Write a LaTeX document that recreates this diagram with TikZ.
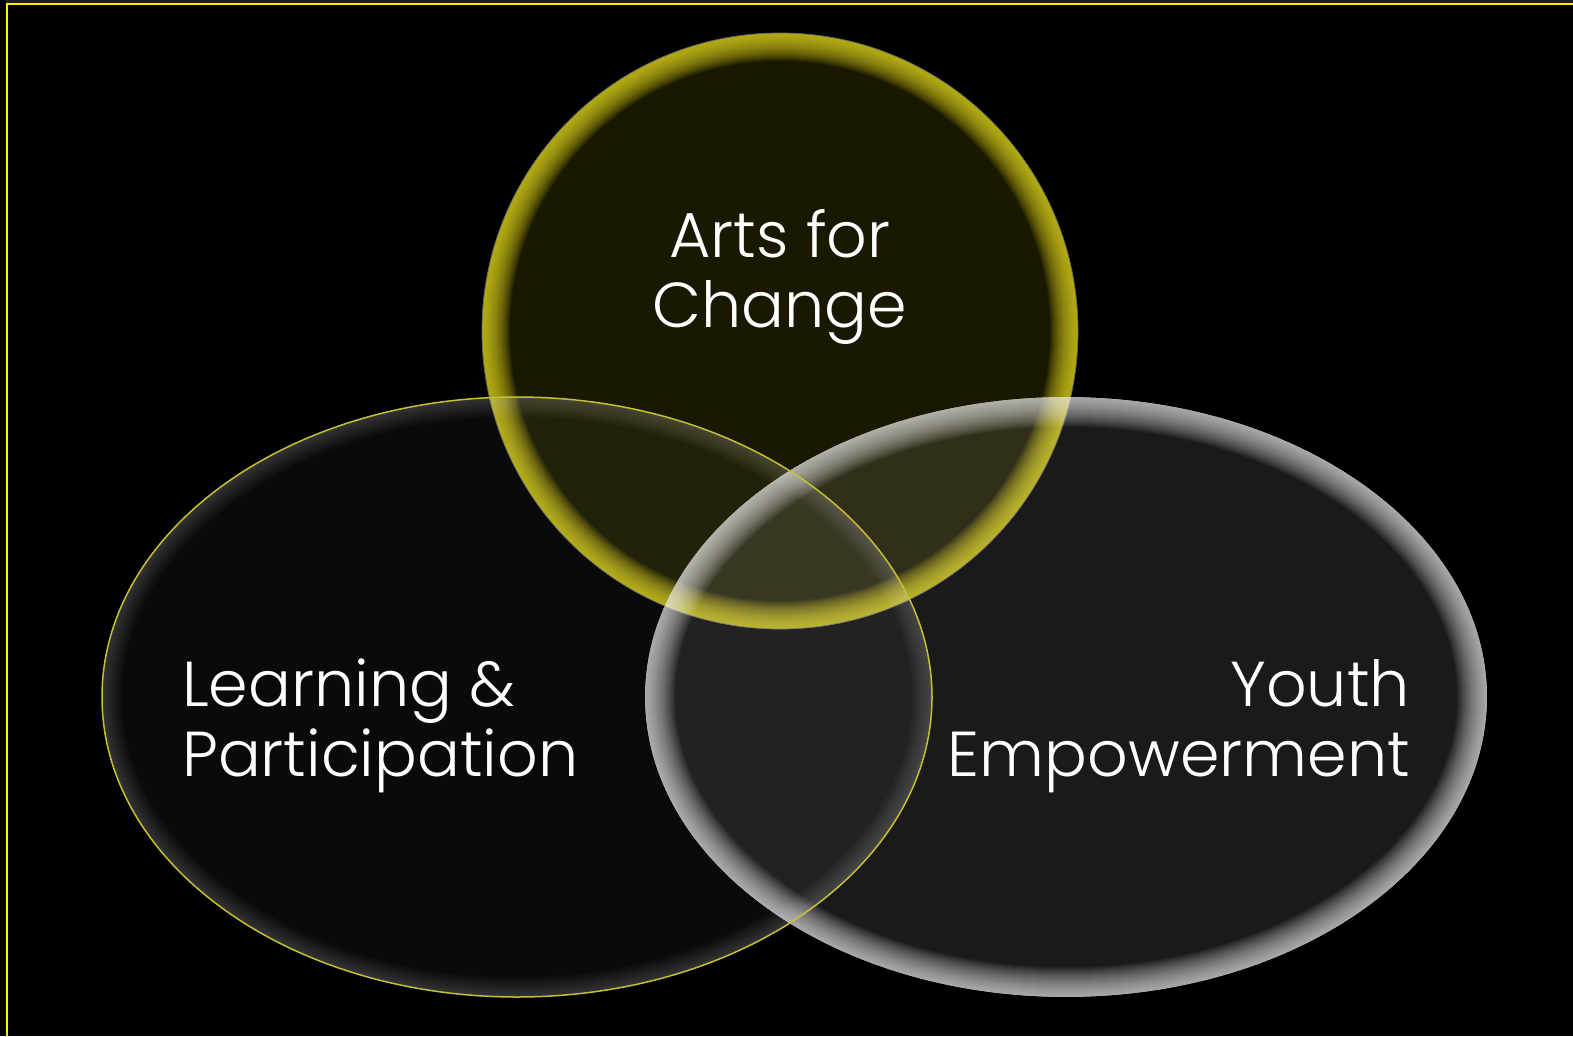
\documentclass[tikz,border=0pt]{standalone}
\usepackage{fontspec}
\setmainfont{Poppins Light}
\usepackage{tikz}

\begin{document}
\begin{tikzpicture}[x=1pt,y=-1pt,
    label/.style={text=white,inner sep=0pt,font=\fontsize{63.5}{70}\selectfont},
    glow/.style={line width=#1pt,opacity=0.06}]
    \fill[black] (0,0) rectangle (1573,1036);
    \useasboundingbox (0,0) rectangle (1573,1036);
    \fill[black!88!white] (6,0) rectangle (1573,3);
    \draw[yellow,line width=2pt] (1573,4) -- (7,4) -- (7,1036);
    % top circle
    \fill[yellow,opacity=0.1] (780,331) circle [radius=298];
    \begin{scope}
    \clip (780,331) circle [radius=298];
    \foreach \w in {2,4,...,56}
      \draw[glow=\w,yellow!85!black] (780,331) circle [radius=298];
    \end{scope}
    \draw[black!60,line width=0.8pt] (780,331) circle [radius=298];
    % right ellipse
    \fill[white,opacity=0.1] (1066,697) ellipse [x radius=421, y radius=300];
    \begin{scope}
    \clip (1066,697) ellipse [x radius=421, y radius=300];
    \foreach \w in {2,4,...,60}
      \draw[glow=\w,white,opacity=0.035] (1066,697) ellipse [x radius=421, y radius=300];
    \end{scope}
    % left ellipse
    \fill[white,opacity=0.04] (517,697) ellipse [x radius=415, y radius=300];
    \begin{scope}
    \clip (517,697) ellipse [x radius=415, y radius=300];
    \foreach \w in {4,8,...,40}
      \draw[glow=\w,white,opacity=0.02] (517,697) ellipse [x radius=415, y radius=300];
    \end{scope}
    \draw[yellow!75!black,line width=1.5pt] (517,697) ellipse [x radius=415, y radius=300];

    \node[label,align=center,anchor=base] (arts) at (780,327) {Arts for\\Change};
    \node[label,align=left,anchor=base west] (learn) at (182,776) {Learning \&\\Participation};
    \node[label,align=right,anchor=base east] (youth) at (1410,776) {Youth\\Empowerment};
\end{tikzpicture}
\end{document}
